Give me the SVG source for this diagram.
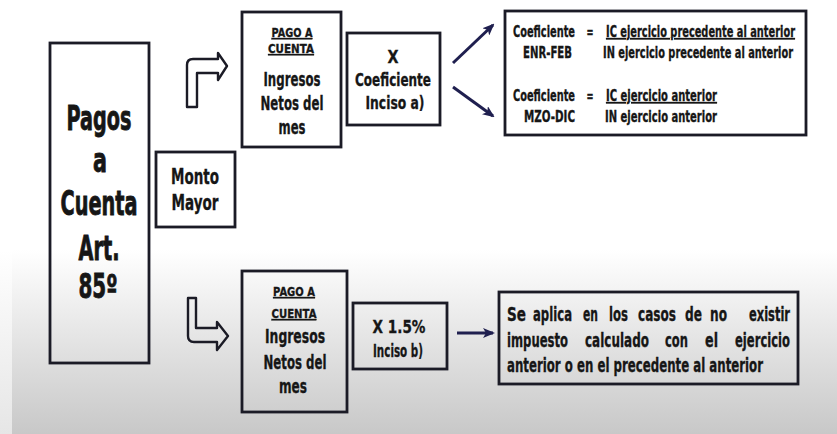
<svg xmlns="http://www.w3.org/2000/svg" width="837" height="434" viewBox="0 0 837 434">
<defs>
<linearGradient id="bg" gradientUnits="userSpaceOnUse" x1="0" y1="250" x2="0" y2="434">
<stop offset="0" stop-color="#ffffff"/>
<stop offset="1" stop-color="#c8c8c8"/>
</linearGradient>
<linearGradient id="bgl" gradientUnits="userSpaceOnUse" x1="0" y1="250" x2="0" y2="434">
<stop offset="0" stop-color="#ffffff"/>
<stop offset="1" stop-color="#e6e6e6"/>
</linearGradient>
<marker id="ah" viewBox="0 0 12 10" refX="10" refY="5" markerWidth="12" markerHeight="10" markerUnits="userSpaceOnUse" orient="auto">
<path d="M0,0 L12,5 L0,10 L3,5 z" fill="#1f1f4f"/>
</marker>
</defs>
<style>
.box{fill:none;stroke:#1b1b26;stroke-width:2.8}
.bent{fill:none;stroke:#1b1b26;stroke-width:2.4;stroke-linejoin:round}
.conn{stroke:#1f1f4f;stroke-width:3;fill:none;marker-end:url(#ah)}
text{font-family:"DejaVu Sans","Liberation Sans",sans-serif;font-weight:bold;fill:#161616;stroke:#161616;stroke-width:0.35}
.big{stroke-width:0.9}
.c{text-anchor:middle}
.u{text-decoration:underline}
</style>
<rect width="837" height="434" fill="url(#bg)"/>
<rect width="12" height="434" fill="url(#bgl)"/>

<g id="pagos-cuenta">
<rect class="box" x="50" y="43" width="99" height="320"/>
<text class="c big" x="99" y="130" font-size="33" textLength="65" lengthAdjust="spacingAndGlyphs">Pagos</text>
<text class="c big" x="100" y="172" font-size="33" textLength="14" lengthAdjust="spacingAndGlyphs">a</text>
<text class="c big" x="99" y="215" font-size="33" textLength="77" lengthAdjust="spacingAndGlyphs">Cuenta</text>
<text class="c big" x="99" y="260" font-size="33" textLength="41" lengthAdjust="spacingAndGlyphs">Art.</text>
<text class="c big" x="98" y="298" font-size="33" textLength="39" lengthAdjust="spacingAndGlyphs">85º</text>
</g>

<g id="monto-mayor">
<rect class="box" x="156" y="152" width="79" height="75"/>
<text class="c" x="195" y="184" font-size="21" textLength="48" lengthAdjust="spacingAndGlyphs">Monto</text>
<text class="c" x="195" y="210" font-size="21" textLength="47" lengthAdjust="spacingAndGlyphs">Mayor</text>
</g>

<g id="pago-top">
<rect class="box" x="242" y="12" width="99" height="135"/>
<text class="c u" x="292" y="37" font-size="13" textLength="41" lengthAdjust="spacingAndGlyphs">PAGO A</text>
<text class="c u" x="291" y="53" font-size="13" textLength="46" lengthAdjust="spacingAndGlyphs">CUENTA</text>
<text class="c" x="292" y="86" font-size="19" textLength="57" lengthAdjust="spacingAndGlyphs">Ingresos</text>
<text class="c" x="292" y="110" font-size="19" textLength="63" lengthAdjust="spacingAndGlyphs">Netos del</text>
<text class="c" x="292" y="134" font-size="19" textLength="27" lengthAdjust="spacingAndGlyphs">mes</text>
</g>

<g id="x-coeficiente">
<rect class="box" x="347" y="33" width="93" height="92"/>
<text class="c" x="393" y="63" font-size="18" textLength="11" lengthAdjust="spacingAndGlyphs">X</text>
<text class="c" x="393" y="86" font-size="18" textLength="76" lengthAdjust="spacingAndGlyphs">Coeficiente</text>
<text class="c" x="395" y="109" font-size="18" textLength="59" lengthAdjust="spacingAndGlyphs">Inciso a)</text>
</g>

<g id="coeficientes">
<rect class="box" x="505" y="11" width="301" height="124"/>
<text x="513" y="37" font-size="15" textLength="62" lengthAdjust="spacingAndGlyphs">Coeficiente</text>
<text class="c" x="590" y="37" font-size="15" textLength="7" lengthAdjust="spacingAndGlyphs">=</text>
<text class="u" x="606" y="37" font-size="15" textLength="189" lengthAdjust="spacingAndGlyphs">IC ejercicio precedente al anterior</text>
<text x="523" y="58" font-size="15" textLength="49" lengthAdjust="spacingAndGlyphs">ENR-FEB</text>
<text x="603" y="58" font-size="15" textLength="190" lengthAdjust="spacingAndGlyphs">IN ejercicio precedente al anterior</text>
<text x="513" y="101" font-size="15" textLength="62" lengthAdjust="spacingAndGlyphs">Coeficiente</text>
<text class="c" x="590" y="101" font-size="15" textLength="7" lengthAdjust="spacingAndGlyphs">=</text>
<text class="u" x="606" y="101" font-size="15" textLength="111" lengthAdjust="spacingAndGlyphs">IC ejercicio anterior</text>
<text x="524" y="122" font-size="15" textLength="51" lengthAdjust="spacingAndGlyphs">MZO-DIC</text>
<text x="605" y="122" font-size="15" textLength="112" lengthAdjust="spacingAndGlyphs">IN ejercicio anterior</text>
</g>

<g id="pago-bottom">
<rect class="box" x="242" y="271" width="105" height="141"/>
<text class="c u" x="294" y="296" font-size="13" textLength="42" lengthAdjust="spacingAndGlyphs">PAGO A</text>
<text class="c u" x="294" y="318" font-size="13" textLength="45" lengthAdjust="spacingAndGlyphs">CUENTA</text>
<text class="c" x="295" y="343" font-size="19" textLength="60" lengthAdjust="spacingAndGlyphs">Ingresos</text>
<text class="c" x="295" y="369" font-size="19" textLength="63" lengthAdjust="spacingAndGlyphs">Netos del</text>
<text class="c" x="293" y="393" font-size="19" textLength="28" lengthAdjust="spacingAndGlyphs">mes</text>
</g>

<g id="x-15">
<rect class="box" x="353" y="303" width="94" height="66"/>
<text class="c" x="399" y="333" font-size="18" textLength="53" lengthAdjust="spacingAndGlyphs">X 1.5%</text>
<text class="c" x="398" y="357" font-size="18" textLength="50" lengthAdjust="spacingAndGlyphs">Inciso b)</text>
</g>

<g id="se-aplica">
<rect class="box" x="499" y="292" width="299" height="92"/>
<text y="321" font-size="19"><tspan x="507" textLength="19" lengthAdjust="spacingAndGlyphs">Se</tspan> <tspan x="533" textLength="39" lengthAdjust="spacingAndGlyphs">aplica</tspan> <tspan x="583" textLength="15" lengthAdjust="spacingAndGlyphs">en</tspan> <tspan x="609" textLength="19" lengthAdjust="spacingAndGlyphs">los</tspan> <tspan x="638" textLength="38" lengthAdjust="spacingAndGlyphs">casos</tspan> <tspan x="685" textLength="17" lengthAdjust="spacingAndGlyphs">de</tspan> <tspan x="710" textLength="17" lengthAdjust="spacingAndGlyphs">no</tspan> <tspan x="749" textLength="41" lengthAdjust="spacingAndGlyphs">existir</tspan></text>
<text y="347" font-size="19"><tspan x="507" textLength="61" lengthAdjust="spacingAndGlyphs">impuesto</tspan> <tspan x="585" textLength="64" lengthAdjust="spacingAndGlyphs">calculado</tspan> <tspan x="665" textLength="23" lengthAdjust="spacingAndGlyphs">con</tspan> <tspan x="705" textLength="13" lengthAdjust="spacingAndGlyphs">el</tspan> <tspan x="735" textLength="55" lengthAdjust="spacingAndGlyphs">ejercicio</tspan></text>
<text x="507" y="372" font-size="19" textLength="256" lengthAdjust="spacingAndGlyphs">anterior o en el precedente  al anterior</text>
</g>

<g id="connectors">
<path class="bent" d="M187,107 L187,65 Q187,59 193,59 L218,59 L218,53 L227,66 L218,80 L218,73 L197,73 L197,107 Z"/>
<path class="bent" d="M188,298 L196,298 L196,328 L217,328 L217,322 L228,336 L217,350 L217,342 L194,342 Q188,342 188,336 Z"/>
<line class="conn" x1="453" y1="63" x2="493" y2="25"/>
<line class="conn" x1="453" y1="87" x2="493" y2="116"/>
<line class="conn" x1="457" y1="333" x2="493" y2="333"/>
</g>
</svg>
